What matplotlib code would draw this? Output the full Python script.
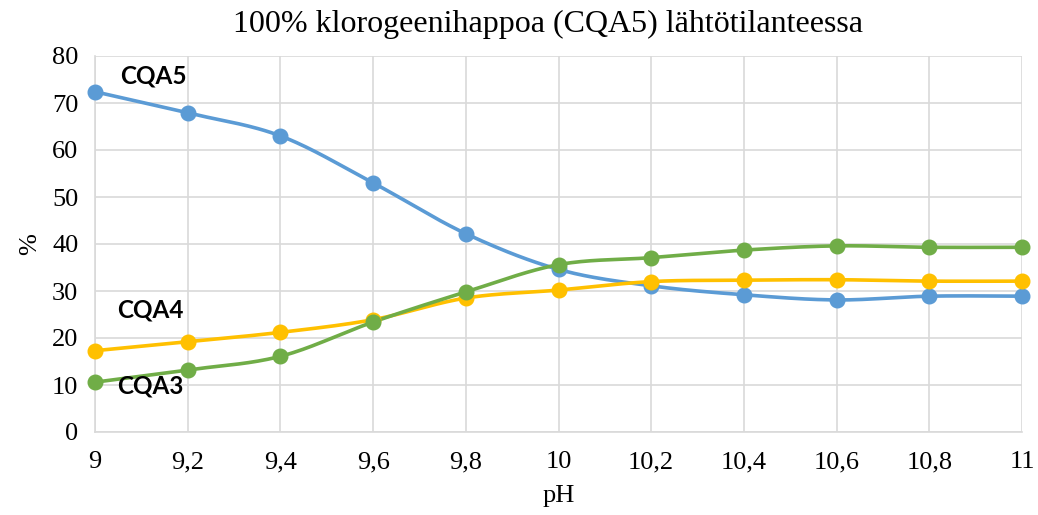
import numpy as np
import matplotlib
matplotlib.use("Agg")
import matplotlib.pyplot as plt

# pH steps and measured share (%) of each isomer
ph = [9.0, 9.2, 9.4, 9.6, 9.8, 10.0, 10.2, 10.4, 10.6, 10.8, 11.0]
ph_labels = ["9", "9,2", "9,4", "9,6", "9,8", "10", "10,2", "10,4", "10,6", "10,8", "11"]
cqa5 = [72.4, 67.9, 63.0, 53.0, 42.2, 34.6, 31.1, 29.2, 28.1, 28.9, 28.9]
cqa4 = [17.3, 19.2, 21.2, 23.9, 28.5, 30.2, 32.0, 32.3, 32.4, 32.1, 32.1]
cqa3 = [10.6, 13.2, 16.1, 23.4, 29.8, 35.6, 37.1, 38.7, 39.6, 39.3, 39.3]

series = [("CQA5", cqa5, "#5B9BD5"), ("CQA4", cqa4, "#FFC000"), ("CQA3", cqa3, "#70AD47")]


def smooth(xs, ys, n=30):
    # cubic bezier through the points, tangents from neighbours (spreadsheet-style smoothing)
    p = np.column_stack([xs, ys]).astype(float)
    out = [p[0]]
    for i in range(len(p) - 1):
        p0 = p[i - 1] if i > 0 else p[i]
        p3 = p[i + 2] if i + 2 < len(p) else p[i + 1]
        c1 = p[i] + (p[i + 1] - p0) / 6
        c2 = p[i + 1] - (p3 - p[i]) / 6
        t = np.linspace(0, 1, n)[1:, None]
        seg = ((1 - t) ** 3) * p[i] + 3 * ((1 - t) ** 2) * t * c1 + 3 * (1 - t) * t ** 2 * c2 + t ** 3 * p[i + 1]
        out.extend(seg)
    out = np.array(out)
    return out[:, 0], out[:, 1]


plt.rcParams["font.family"] = ["Liberation Serif", "DejaVu Serif"]
fig = plt.figure(figsize=(10.38, 5.15), dpi=100)
ax = fig.add_axes([95 / 1038, 83 / 515, 927 / 1038, 376 / 515])

grid_c = "#D9D9D9"
for name, vals, col in series:
    sx, sy = smooth(ph, vals)
    ax.plot(sx, sy, color=col, lw=2.6, solid_capstyle="round", zorder=3)
    ax.plot(ph, vals, "o", color=col, ms=10.5, zorder=4, clip_on=False)

ax.set_xlim(9, 11)
ax.set_ylim(0, 80)
ax.set_xticks(ph)
ax.set_xticklabels(ph_labels)
ax.set_yticks(range(0, 81, 10))
ax.grid(True, color=grid_c, lw=1.2)
ax.set_axisbelow(True)
for s in ax.spines.values():
    s.set_visible(False)
for side in ("left", "bottom"):
    ax.spines[side].set_visible(True)
    ax.spines[side].set_color(grid_c)
    ax.spines[side].set_linewidth(1.2)
ax.tick_params(length=0, labelsize=19, colors="black")
ax.tick_params(axis="x", pad=14)
ax.tick_params(axis="y", pad=12)

ax.set_title("100% klorogeenihappoa (CQA5) lähtötilanteessa", fontsize=23, pad=17, x=0.489)
ax.set_xlabel("pH", fontsize=19, labelpad=8)
ax.set_ylabel("%", fontsize=19, labelpad=8)

lab_font = dict(fontsize=17.5, fontweight="bold", family=["Lato", "DejaVu Sans"], ha="center", va="center", zorder=5)
ax.text(9.127, 75.7, "CQA5", **lab_font)
ax.text(9.12, 26.0, "CQA4", **lab_font)
ax.text(9.12, 9.8, "CQA3", **lab_font)

fig.savefig("out.png", dpi=100)
